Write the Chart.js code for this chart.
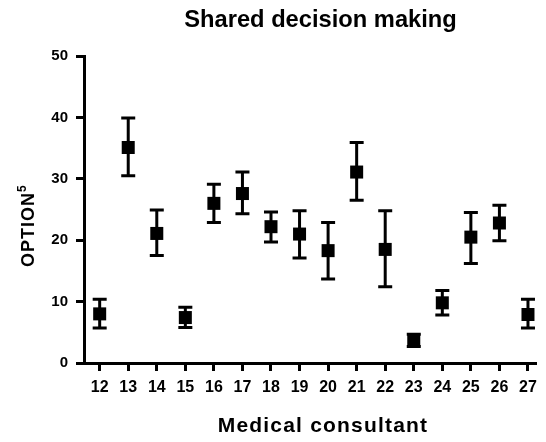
<!DOCTYPE html>
<html>
<head>
<meta charset="utf-8">
<script src="https://cdn.jsdelivr.net/npm/chart.js@4/dist/chart.umd.min.js"></script>
<style>
html,body{margin:0;padding:0;background:#ffffff;}
#wrap{width:546px;height:442px;}
</style>
</head>
<body>
<div id="wrap"><canvas id="c" width="546" height="442"></canvas></div>
<script>
// ---- data ----
const categories  = [12, 13, 14, 15, 16, 17, 18, 19, 20, 21, 22, 23, 24, 25, 26, 27];
const tickLabels  = ['12','13','14','15','16','17','18','19','20','21','22','23','24','25','26','27'];
const means       = [8.0, 35.1, 21.1, 7.4, 26.0, 27.6, 22.2, 21.0, 18.3, 31.1, 18.5, 3.7, 9.8, 20.5, 22.8, 7.9];
const lowerBounds = [5.7, 30.5, 17.5, 5.8, 22.9, 24.3, 19.7, 17.1, 13.7, 26.5, 12.4, 2.7, 7.8, 16.2, 19.9, 5.7];
const upperBounds = [10.4, 39.9, 24.9, 9.1, 29.1, 31.1, 24.6, 24.8, 22.9, 35.9, 24.8, 4.7, 11.8, 24.5, 25.7, 10.4];
const yTicks      = [0, 10, 20, 30, 40, 50];
const chartTitle  = 'Shared decision making';
const xTitle      = 'Medical consultant';
const yTitle      = 'OPTION';
const yTitleSup   = '5';

const FONT = '"Liberation Sans", Arial, Helvetica, sans-serif';

const errorBars = {
  id: 'errorBars',
  beforeDatasetsDraw(chart) {
    const ctx = chart.ctx, xs = chart.scales.x, ys = chart.scales.y;
    ctx.save();
    ctx.strokeStyle = '#000';
    ctx.lineWidth = 3;
    ctx.lineCap = 'butt';
    categories.forEach((c, i) => {
      const px = xs.getPixelForValue(c);
      const t = ys.getPixelForValue(upperBounds[i]);
      const b = ys.getPixelForValue(lowerBounds[i]);
      ctx.beginPath();
      ctx.moveTo(px, t); ctx.lineTo(px, b);
      ctx.moveTo(px - 7, t); ctx.lineTo(px + 7, t);
      ctx.moveTo(px - 7, b); ctx.lineTo(px + 7, b);
      ctx.stroke();
    });
    ctx.restore();
  }
};

const titles = {
  id: 'titles',
  afterDraw(chart) {
    const ctx = chart.ctx;
    ctx.save();
    ctx.fillStyle = '#000';
    // main title
    ctx.font = 'bold 23.7px ' + FONT;
    ctx.textAlign = 'center';
    ctx.textBaseline = 'alphabetic';
    ctx.fillText(chartTitle, 320.5, 27);
    // x title
    ctx.font = 'bold 21px ' + FONT;
    if ('letterSpacing' in ctx) ctx.letterSpacing = '1.2px';
    ctx.fillText(xTitle, 323, 432);
    // y title (rotated)
    ctx.translate(34, 267);
    ctx.rotate(-Math.PI / 2);
    ctx.textAlign = 'left';
    ctx.font = 'bold 18px ' + FONT;
    if ('letterSpacing' in ctx) ctx.letterSpacing = '1px';
    ctx.fillText(yTitle, 0, 0);
    const w = ctx.measureText(yTitle).width;
    ctx.font = 'bold 12px ' + FONT;
    if ('letterSpacing' in ctx) ctx.letterSpacing = '0px';
    ctx.fillText(yTitleSup, w, -8);
    ctx.restore();
  }
};

const tickFont = { family: FONT, size: 16, weight: 'bold' };

new Chart(document.getElementById('c'), {
  type: 'scatter',
  data: {
    datasets: [{
      data: categories.map((c, i) => ({ x: c, y: means[i] })),
      pointStyle: 'rect',
      pointRadius: 9.2,
      pointHoverRadius: 9.2,
      backgroundColor: '#000',
      borderColor: '#000',
      borderWidth: 0,
      clip: false
    }]
  },
  options: {
    responsive: false,
    animation: false,
    devicePixelRatio: 1,
    layout: { padding: { top: 56, left: 0, right: 0, bottom: 0 } },
    plugins: { legend: { display: false }, tooltip: { enabled: false }, title: { display: false } },
    scales: {
      x: {
        type: 'linear',
        min: 11.451,
        max: 27.309,
        afterBuildTicks: s => { s.ticks = categories.map(v => ({ value: v })); },
        afterFit: s => { s.height = 79; s.paddingLeft = 0; s.paddingRight = 0; },
        ticks: {
          callback: (v, i) => tickLabels[i],
          font: tickFont, color: '#000', padding: 7, maxRotation: 0, autoSkip: false
        },
        grid: { drawOnChartArea: false, drawTicks: true, tickLength: 8, tickWidth: 3, tickColor: '#000' },
        border: { display: true, width: 3, color: '#000' }
      },
      y: {
        min: 0,
        max: 50,
        afterBuildTicks: s => { s.ticks = yTicks.map(v => ({ value: v })); },
        afterFit: s => { s.width = 84; s.paddingTop = 0; s.paddingBottom = 0; },
        ticks: { font: { family: FONT, size: 15, weight: 'bold' }, color: '#000', padding: 8 },
        grid: { drawOnChartArea: false, drawTicks: true, tickLength: 8, tickWidth: 3, tickColor: '#000' },
        border: { display: true, width: 3, color: '#000' }
      }
    }
  },
  plugins: [errorBars, titles]
});
</script>
</body>
</html>
